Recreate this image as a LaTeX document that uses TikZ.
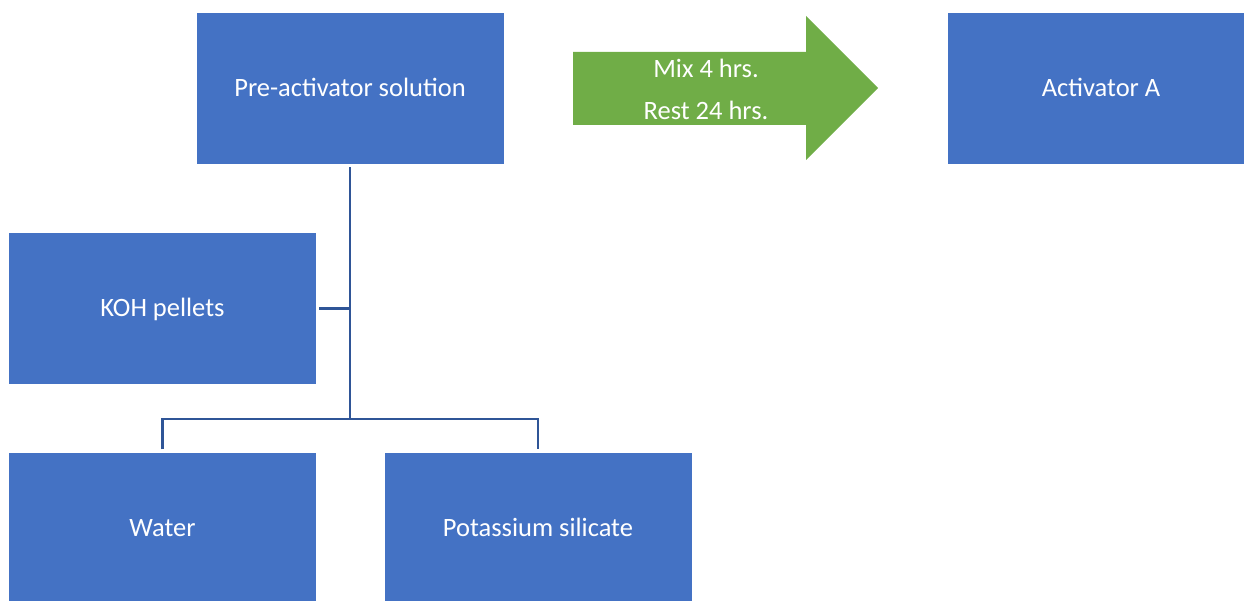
\documentclass[tikz,border=0pt]{standalone}
\usepackage{fontspec}
\setmainfont{Carlito}
\usetikzlibrary{positioning,calc}
\definecolor{boxblue}{HTML}{4472C4}
\definecolor{treeblue}{HTML}{2F5597}
\definecolor{flowgreen}{HTML}{70AD47}

\begin{document}
\begin{tikzpicture}[x=1pt,y=-1pt,
    stepbox/.style={fill=boxblue, text=white, minimum width=307pt, minimum height=151pt,
        inner sep=0pt, text height=20pt, text depth=3pt, font=\fontsize{26.5}{32}\selectfont},
    tree/.style={draw=treeblue, line width=2.8pt},
    flow/.style={fill=flowgreen}]
    \useasboundingbox (0,0) rectangle (1244,601);
    \clip (0,0) rectangle (1244,601);

    % Boxes
    \node[stepbox] (pre) at (350,88.5) {Pre-activator solution};
    \node[stepbox] (act) at (1101,88.5) {Activator A};
    \node[stepbox] (koh) at (162.5,308.5) {KOH pellets};
    \node[stepbox] (water) at (162.5,528) {Water};
    \node[stepbox] (silicate) at (538,528) {Potassium silicate};

    % Green process arrow
    \fill[flow] (573,52) -- (806,52) -- (806,16) -- (878,88) -- (806,160) -- (806,125) -- (573,125) -- cycle;
    \node[text=white, align=center, font=\fontsize{26.5}{42}\selectfont] (mixnote) at (706,89) {Mix 4 hrs.\\Rest 24 hrs.};

    % Tree connectors
    \coordinate (hub) at (350,419);
    \draw[tree] ([yshift=-3pt]pre.south) -- (hub);
    \draw[tree] ([xshift=3pt]koh.east) -- (koh.east -| hub);
    \draw[tree] ([yshift=3pt]water.north) |- (hub) -| ([yshift=3pt]silicate.north);
\end{tikzpicture}
\end{document}
